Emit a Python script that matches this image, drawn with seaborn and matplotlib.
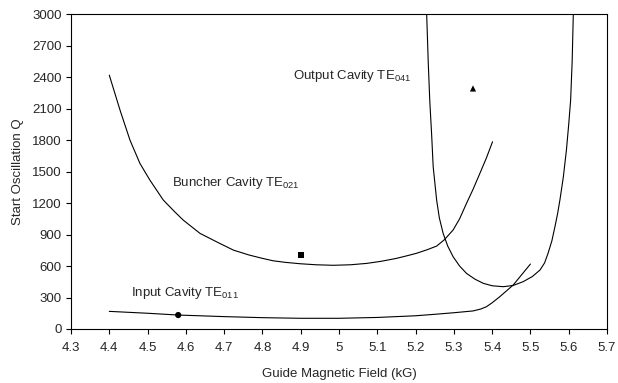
import matplotlib
matplotlib.use("Agg")
import matplotlib.pyplot as plt
import seaborn as sns
import pandas as pd

# Data
input_x = [4.40, 4.50, 4.58, 4.70, 4.80, 4.90, 5.00, 5.10, 5.20, 5.25, 5.30, 5.35, 5.37, 5.385, 5.40, 5.42, 5.455, 5.50]
input_y = [168, 150, 133, 118, 108, 102, 102, 110, 126, 140, 155, 172, 190, 212, 250, 308, 419, 619]

buncher_x = [4.400, 4.428, 4.454, 4.480, 4.506, 4.541, 4.570, 4.593, 4.637, 4.685, 4.724, 4.765, 4.800, 4.828,
             4.860, 4.898, 4.940, 4.985, 5.030, 5.072, 5.110, 5.150, 5.180, 5.203, 5.230, 5.255, 5.275, 5.298,
             5.315, 5.333, 5.350, 5.368, 5.385, 5.401]
buncher_y = [2419, 2086, 1800, 1578, 1419, 1229, 1120, 1038, 911, 822, 752, 705, 673, 650,
             635, 622, 612, 607, 612, 625, 645, 673, 700, 722, 755, 790, 850, 943,
             1050, 1197, 1330, 1483, 1630, 1784]

output_x = [5.229, 5.233, 5.237, 5.242, 5.246, 5.251, 5.255, 5.262, 5.272, 5.284, 5.298, 5.315, 5.333,
            5.355, 5.377, 5.400, 5.429, 5.455, 5.481, 5.505, 5.525, 5.537, 5.546, 5.556, 5.564, 5.571,
            5.577, 5.586, 5.594, 5.600, 5.605, 5.609, 5.612]
output_y = [3000, 2550, 2181, 1850, 1546, 1370, 1229, 1060, 911, 790, 689, 600, 530,
            475, 435, 412, 403, 415, 451, 500, 562, 630, 721, 840, 974, 1100,
            1229, 1450, 1705, 1950, 2181, 2550, 3000]

point_x = [4.58, 4.90, 5.35]
point_y = [133, 702, 2292]
point_kind = ["Input", "Buncher", "Output"]

x_ticks = [4.3, 4.4, 4.5, 4.6, 4.7, 4.8, 4.9, 5.0, 5.1, 5.2, 5.3, 5.4, 5.5, 5.6, 5.7]
x_tick_labels = ["4.3", "4.4", "4.5", "4.6", "4.7", "4.8", "4.9", "5", "5.1", "5.2", "5.3", "5.4", "5.5", "5.6", "5.7"]
y_ticks = [0, 300, 600, 900, 1200, 1500, 1800, 2100, 2400, 2700, 3000]

sns.set_theme(style="ticks")
plt.rcParams['font.family'] = ['Liberation Sans', 'DejaVu Sans']
plt.rcParams['mathtext.default'] = 'regular'

fig = plt.figure(figsize=(6.18, 3.83), dpi=100)
ax = fig.add_axes([0.1149, 0.141, 0.8673, 0.822])

lw = 0.8
for xs, ys in [(input_x, input_y), (buncher_x, buncher_y), (output_x, output_y)]:
    df = pd.DataFrame({"x": xs, "y": ys})
    sns.lineplot(data=df, x="x", y="y", ax=ax, color="black", linewidth=lw, sort=False)

pts = pd.DataFrame({"x": point_x, "y": point_y, "kind": point_kind})
sns.scatterplot(data=pts, x="x", y="y", style="kind",
                markers={"Input": "o", "Buncher": "s", "Output": "^"},
                color="black", s=20, edgecolor="black", linewidth=0, ax=ax, legend=False)

fs = 9.5
ax.text(4.88, 2410, "Output Cavity TE$_{041}$", fontsize=fs, va="center", ha="left")
ax.text(4.564, 1390, "Buncher Cavity TE$_{021}$", fontsize=fs, va="center", ha="left")
ax.text(4.457, 346, "Input Cavity TE$_{011}$", fontsize=fs, va="center", ha="left")

ax.set_xlim(4.3, 5.7)
ax.set_ylim(0, 3000)
ax.set_xticks(x_ticks)
ax.set_xticklabels(x_tick_labels)
ax.set_yticks(y_ticks)
ax.tick_params(axis="both", labelsize=fs, length=3.8, width=0.8, direction="out", color="black")
ax.tick_params(axis="x", pad=5.5)
ax.tick_params(axis="y", pad=3)
for sp in ax.spines.values():
    sp.set_visible(True)
    sp.set_color("black")
    sp.set_linewidth(0.8)
ax.set_xlabel("Guide Magnetic Field (kG)", fontsize=fs, labelpad=10)
ax.set_ylabel("Start Oscillation Q", fontsize=fs, labelpad=6)
ax.grid(False)

fig.savefig("out.png", dpi=100)
